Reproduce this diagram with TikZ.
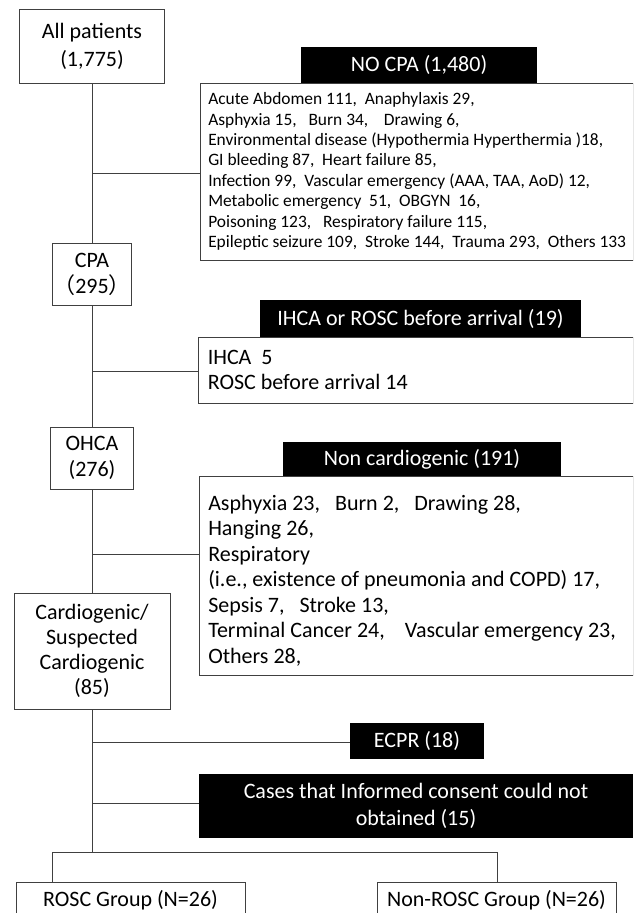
\documentclass[tikz,border=0pt]{standalone}
\usepackage{fontspec}
\setmainfont{Carlito}
\newfontfamily\cjkfont{Noto Sans CJK JP}
\newcommand{\tightsp}{\spaceskip=0.226em\relax}
\begin{document}
\begin{tikzpicture}[x=1pt,y=-1pt,
  box/.style={draw=black!75, line width=0.9pt, fill=white, inner sep=0pt, align=center, font=\fontsize{22}{26}\selectfont},
  blk/.style={fill=black, text=white, inner sep=0pt, align=center, font=\fontsize{22}{27}\selectfont},
  lstbox/.style={draw=black!75, line width=0.9pt, fill=white, inner sep=0pt},
  lsttext/.style={inner sep=0pt, anchor=west, align=flush left},
  ln/.style={draw=black!75, line width=0.9pt}]
\useasboundingbox (0,0) rectangle (633,913);
\fill[white] (0,0) rectangle (633,913);
\clip (0,0) rectangle (633,913);

% left spine boxes
\node[box, minimum width=145pt, minimum height=74pt, font=\fontsize{22}{28}\selectfont] (allp) at (92,46) {All patients\\(1,775)};
\node[box, minimum width=79pt, minimum height=62pt] (cpa) at (92,274) {CPA\\{\cjkfont （}295{\cjkfont ）}};
\node[box, minimum width=83pt, minimum height=62pt] (ohca) at (92,458) {OHCA\\(276)};
\node[box, minimum width=156pt, minimum height=116pt, font=\fontsize{22}{25}\selectfont] (cardio) at (92,651) {Cardiogenic/\\Suspected\\Cardiogenic\\(85)};
\node[box, minimum width=229pt, minimum height=36pt] (rosc) at (130.5,900) {ROSC Group (N=26)};
\node[box, minimum width=239pt, minimum height=36pt] (nonrosc) at (496.5,900) {Non-ROSC Group (N=26)};

% exclusion lists
\node[lstbox, minimum width=433pt, minimum height=177pt] (nocpalist) at (416.5,171.5) {};
\node[lsttext, font=\fontsize{17.4}{20.4}\selectfont\tightsp] (nocpatext) at ([xshift=8.5pt]nocpalist.west) {Acute Abdomen 111,~ Anaphylaxis 29,\\
Asphyxia 15,~~ Burn 34,~~~ Drawing 6,\\
Environmental disease (Hypothermia Hyperthermia )18,\\
GI bleeding 87,~ Heart failure 85,\\
Infection 99,~ Vascular emergency (AAA, TAA, AoD) 12,\\
Metabolic emergency~ 51,~ OBGYN~ 16,\\
Poisoning 123,~~ Respiratory failure 115,\\
Epileptic seizure 109,~ Stroke 144,~ Trauma 293,~ Others 133};
\node[blk, minimum width=236pt, minimum height=36pt] (nocpa) at (419,65) {NO CPA (1,480)};

\node[lstbox, minimum width=435pt, minimum height=66pt] (ihcalist) at (415.5,370) {};
\node[lsttext, font=\fontsize{22}{25}\selectfont\tightsp] (ihcatext) at ([xshift=10pt]ihcalist.west) {IHCA~ 5\\ROSC before arrival 14};
\node[blk, minimum width=321pt, minimum height=37pt] (ihca) at (420.5,318.5) {IHCA or ROSC before arrival (19)};

\node[lstbox, minimum width=434pt, minimum height=199pt] (noncardlist) at (416,575.5) {};
\node[lsttext, font=\fontsize{22}{25.5}\selectfont\tightsp] (noncardtext) at ([xshift=9.5pt,yshift=-5pt]noncardlist.west) {Asphyxia 23,~~ Burn 2,~~ Drawing 28,\\
Hanging 26,\\
Respiratory\\
(i.e., existence of pneumonia and COPD) 17,\\
Sepsis 7,~~ Stroke 13,\\
Terminal Cancer 24,~~~ Vascular emergency 23,\\
Others 28,};
\node[blk, minimum width=278pt, minimum height=34pt] (noncard) at (422,459) {Non cardiogenic (191)};

\node[blk, minimum width=134pt, minimum height=36pt] (ecpr) at (417,741) {ECPR (18)};
\node[blk, minimum width=434pt, minimum height=64pt] (cases) at (416,806) {Cases that Informed consent could not\\obtained (15)};

% spine connectors
\draw[ln] (allp.south) -- (cpa.north);
\draw[ln] (cpa.south) -- (ohca.north);
\draw[ln] (ohca.south) -- (cardio.north);
\coordinate (j1) at (92,173);
\coordinate (j2) at (92,371);
\coordinate (j3) at (92,554);
\coordinate (j4) at (92,742);
\coordinate (j5) at (92,803);
\draw[ln] (j1) -- (j1 -| nocpalist.west);
\draw[ln] (j2) -- (j2 -| ihcalist.west);
\draw[ln] (j3) -- (j3 -| noncardlist.west);
\draw[ln] (j4) -- (j4 -| ecpr.west);
\draw[ln] (j5) -- (j5 -| cases.west);
\coordinate (split) at (92,852);
\coordinate (lft) at (52,852);
\coordinate (rgt) at (497,852);
\draw[ln] (cardio.south) -- (split);
\draw[ln] (lft) -- (rgt);
\draw[ln] (lft) -- (lft |- rosc.north);
\draw[ln] (rgt) -- (rgt |- nonrosc.north);
\end{tikzpicture}
\end{document}
